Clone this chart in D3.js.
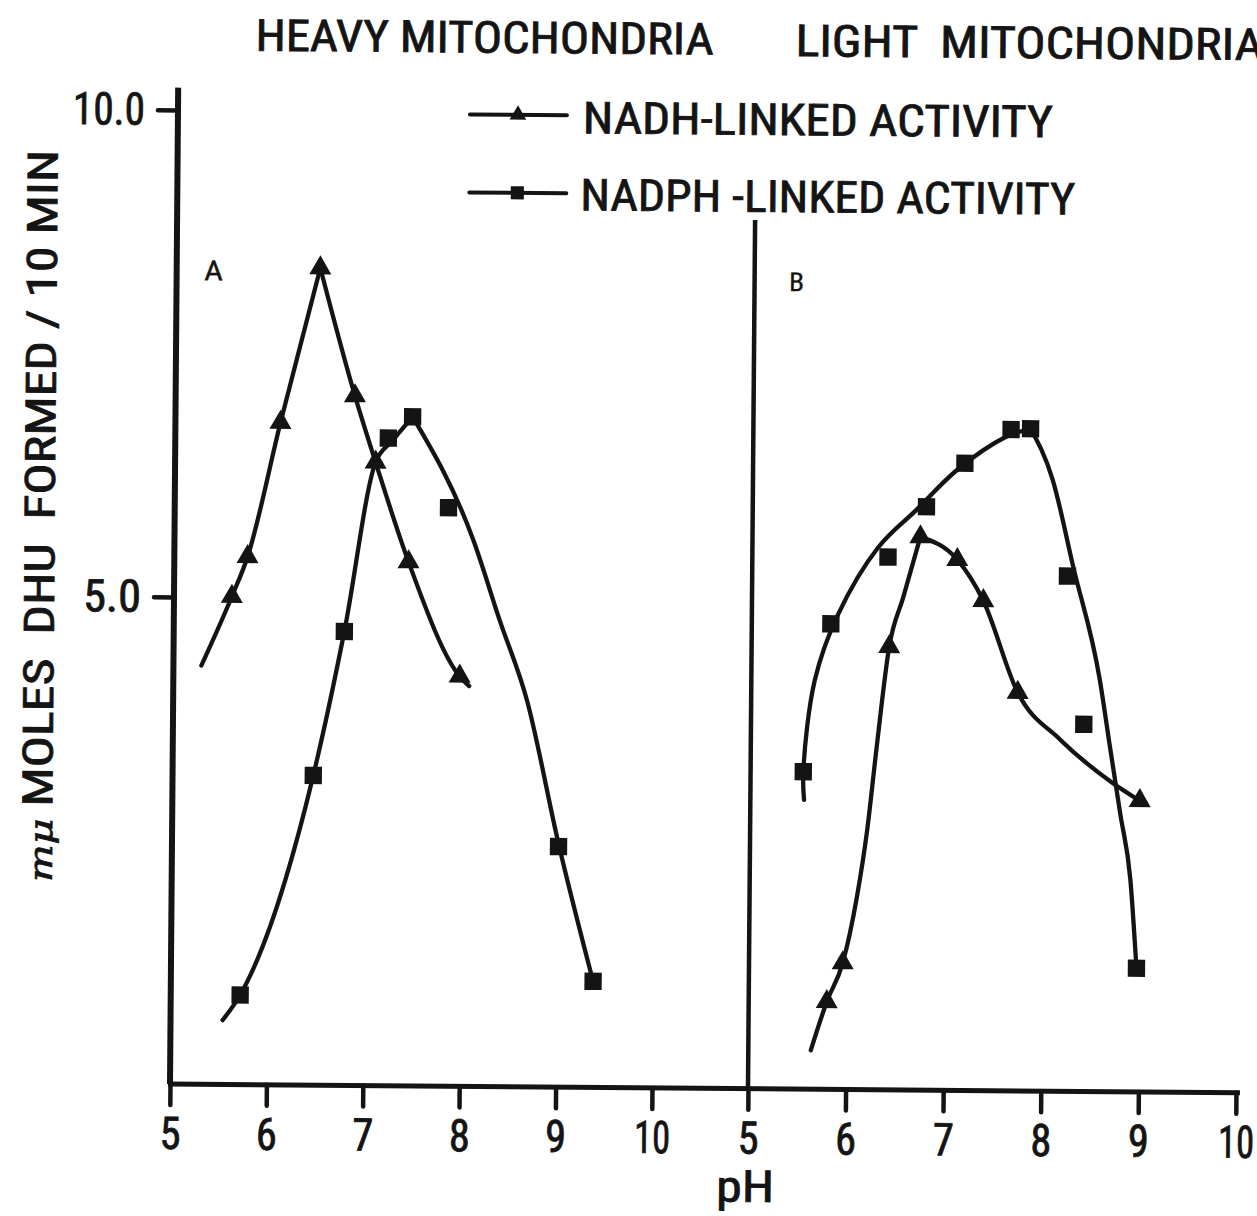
<!DOCTYPE html>
<html>
<head>
<meta charset="utf-8">
<script src="https://cdn.jsdelivr.net/npm/d3@7/dist/d3.min.js"></script>
<style>
  html, body { margin: 0; padding: 0; background: #fff; }
  svg { display: block; }
  text { font-family: "Liberation Sans Narrow", "Roboto Condensed", "Roboto", "Liberation Sans", sans-serif; font-weight: 400; fill: #141414; stroke: #141414; stroke-width: 0.8px; white-space: pre; }
</style>
</head>
<body>
<svg id="chart" width="1257" height="1216"></svg>
<script>
// ---- axis ticks -------------------------------------------------------
const phTicks = [5, 6, 7, 8, 9, 10];
const activityTicks = [5, 10];

// ---- panel A: heavy mitochondria (measured points) --------------------
const heavyNadhPh   = [5.60, 5.76, 6.09, 6.49, 6.86, 7.08, 7.43, 7.97];
const heavyNadhAct  = [5.01, 5.42, 6.80, 8.39, 7.08, 6.40, 5.38, 4.21];
const heavyNadphPh  = [5.72, 6.46, 6.77, 7.21, 7.46, 7.84, 9.01, 9.38];
const heavyNadphAct = [0.92, 3.18, 4.66, 6.65, 6.87, 5.94, 2.47, 1.09];

// hand-drawn fit curves, [pH, activity], split at the peak
const heavyNadhFit = [
  [[5.29, 4.30], [5.60, 5.01], [5.76, 5.42], [6.09, 6.80], [6.49, 8.39]],
  [[6.49, 8.39], [6.86, 7.08], [7.08, 6.40], [7.43, 5.38], [7.97, 4.21], [8.07, 4.11]]
];
const heavyNadphFit = [
  [[5.54, 0.66], [5.72, 0.92], [6.46, 3.18], [6.77, 4.66], [7.08, 6.40], [7.25, 6.62], [7.46, 6.87]],
  [[7.46, 6.87], [8.10, 5.61], [8.38, 4.79], [8.67, 3.97], [9.01, 2.50], [9.38, 1.09]]
];

// ---- panel B: light mitochondria (measured points) --------------------
const lightNadhPh   = [5.80, 5.96, 6.41, 6.72, 7.10, 7.37, 7.73, 8.99];
const lightNadhAct  = [0.90, 1.30, 4.55, 5.68, 5.45, 5.03, 4.09, 2.99];
const lightNadphPh  = [5.54, 5.81, 6.39, 6.78, 7.17, 7.64, 7.84, 8.23, 8.41, 8.97];
const lightNadphAct = [3.26, 4.78, 5.47, 5.99, 6.44, 6.79, 6.80, 5.29, 3.77, 1.27];

const lightNadhFit = [
  [[5.64, 0.40], [5.80, 0.90], [5.96, 1.30], [6.10, 1.98], [6.20, 2.67], [6.29, 3.52], [6.41, 4.55], [6.55, 5.06], [6.72, 5.68]],
  [[6.72, 5.68], [7.10, 5.45], [7.37, 5.03], [7.73, 4.09], [8.17, 3.61], [8.71, 3.17], [8.99, 2.99]]
];
const lightNadphFit = [
  [[5.55, 2.97], [5.54, 3.26], [5.65, 4.20], [5.88, 4.87], [6.29, 5.57], [6.68, 5.96], [7.09, 6.37], [7.58, 6.71], [7.84, 6.80]],
  [[7.84, 6.80], [8.07, 6.28], [8.29, 5.38], [8.57, 4.23], [8.68, 3.54], [8.79, 2.86], [8.90, 2.18], [8.97, 1.27]]
];

// ---- layout -----------------------------------------------------------
const ink = "#141414";
const svg = d3.select("#chart");
// the whole plate sits very slightly turned on the page
const g = svg.append("g").attr("transform", "rotate(0.47,170,1084)");

const y  = d3.scaleLinear().domain([0, 10]).range([1084, 110]);
const xA = d3.scaleLinear().domain([5, 10]).range([170, 652]);
const xB = d3.scaleLinear().domain([5, 10]).range([748, 1236]);

// axis lines
g.append("line").attr("x1", xA(5)).attr("x2", xA(5)).attr("y1", y(0)).attr("y2", y(10.23))
  .attr("stroke", ink).attr("stroke-width", 6);
g.append("line").attr("x1", xB(5)).attr("x2", xB(5)).attr("y1", y(0)).attr("y2", y(8.92))
  .attr("stroke", ink).attr("stroke-width", 4.5);
g.append("line").attr("x1", xA(5) - 2).attr("x2", xB(10) + 4).attr("y1", y(0)).attr("y2", y(0))
  .attr("stroke", ink).attr("stroke-width", 5);

// tick label widths for the narrow lettering
const tickWidth = s => ({1: 21, 2: 36, 3: 58, 4: 72})[s.length];

function styleAxis(sel) {
  sel.select(".domain").remove();
  sel.selectAll(".tick line").attr("stroke", ink).attr("stroke-width", 4.5).attr("stroke-linecap", "round");
  sel.selectAll(".tick text")
    .attr("fill", ink)
    .style("font-size", "45px")
    .attr("textLength", function () { return tickWidth(this.textContent); })
    .attr("lengthAdjust", "spacingAndGlyphs");
}

[xA, xB].forEach(sc => {
  g.append("g").attr("transform", `translate(0,${y(0)})`)
    .call(d3.axisBottom(sc).tickValues(phTicks).tickFormat(d3.format("d"))
      .tickSize(21).tickPadding(12).tickSizeOuter(0))
    .call(styleAxis);
});

g.append("g").attr("transform", `translate(${xA(5)},0)`)
  .call(d3.axisLeft(y).tickValues(activityTicks).tickFormat(d3.format(".1f"))
    .tickSize(20).tickPadding(13).tickSizeOuter(0))
  .call(styleAxis);

// ---- curves and markers -----------------------------------------------
const increasing = pts => pts.every((p, i) => i === 0 || p[0] > pts[i - 1][0]);

function drawSeries(xs, fit, ph, act, symbolType, size) {
  g.append("g").selectAll("path").data(fit).join("path")
    .attr("d", pts => d3.line().x(d => xs(d[0])).y(d => y(d[1]))
      .curve(increasing(pts) ? d3.curveMonotoneX : d3.curveCatmullRom.alpha(0.5))(pts))
    .attr("fill", "none").attr("stroke", ink)
    .attr("stroke-width", 4.3).attr("stroke-linecap", "round").attr("stroke-linejoin", "round");
  g.append("g").selectAll("path").data(d3.zip(ph, act)).join("path")
    .attr("transform", d => `translate(${xs(d[0])},${y(d[1])})`)
    .attr("d", d3.symbol(symbolType, size)).attr("fill", ink);
}

drawSeries(xA, heavyNadhFit, heavyNadhPh, heavyNadhAct, d3.symbolTriangle, 210);
drawSeries(xA, heavyNadphFit, heavyNadphPh, heavyNadphAct, d3.symbolSquare, 300);
drawSeries(xB, lightNadhFit, lightNadhPh, lightNadhAct, d3.symbolTriangle, 210);
drawSeries(xB, lightNadphFit, lightNadphPh, lightNadphAct, d3.symbolSquare, 300);

// ---- titles, legend, labels -------------------------------------------
function label(txt, x, yy, size, len, anchor) {
  return g.append("text").attr("x", x).attr("y", yy).text(txt)
    .style("font-size", size + "px")
    .attr("text-anchor", anchor || "start")
    .attr("textLength", len).attr("lengthAdjust", "spacingAndGlyphs");
}

label("HEAVY MITOCHONDRIA", 247, 50, 44, 458);
label("LIGHT  MITOCHONDRIA", 787, 51, 44, 468);

// legend
const legend = [
  {name: "NADH-LINKED ACTIVITY", sym: d3.symbolTriangle, size: 120, ly: 112, ty: 130, tx: 575, len: 470},
  {name: "NADPH -LINKED ACTIVITY", sym: d3.symbolSquare, size: 170, ly: 190, ty: 207, tx: 573, len: 495}
];
legend.forEach(L => {
  g.append("line").attr("x1", 462).attr("x2", 559).attr("y1", L.ly).attr("y2", L.ly)
    .attr("stroke", ink).attr("stroke-width", 4).attr("stroke-linecap", "round");
  g.append("path").attr("transform", `translate(510,${L.ly})`).attr("d", d3.symbol(L.sym, L.size)).attr("fill", ink);
  label(L.name, L.tx, L.ty, 44, L.len);
});

label("A", 207, 280, 28, 19, "middle").style("stroke-width", "0.3px");
label("B", 790, 286, 26, 15, "middle").style("stroke-width", "0.3px");

label("pH", 746, 1197, 44, 58, "middle");

// y-axis title
const yt = g.append("text")
  .attr("transform", "translate(50,517) rotate(-90)")
  .attr("text-anchor", "middle")
  .style("font-size", "42px")
  .attr("textLength", 732).attr("lengthAdjust", "spacingAndGlyphs");
yt.append("tspan").text("mμ").style("font-family", "'DejaVu Serif', serif").style("font-style", "italic").style("font-size", "32px");
yt.append("tspan").text(" MOLES  DHU  FORMED / 10 MIN");
</script>
</body>
</html>
